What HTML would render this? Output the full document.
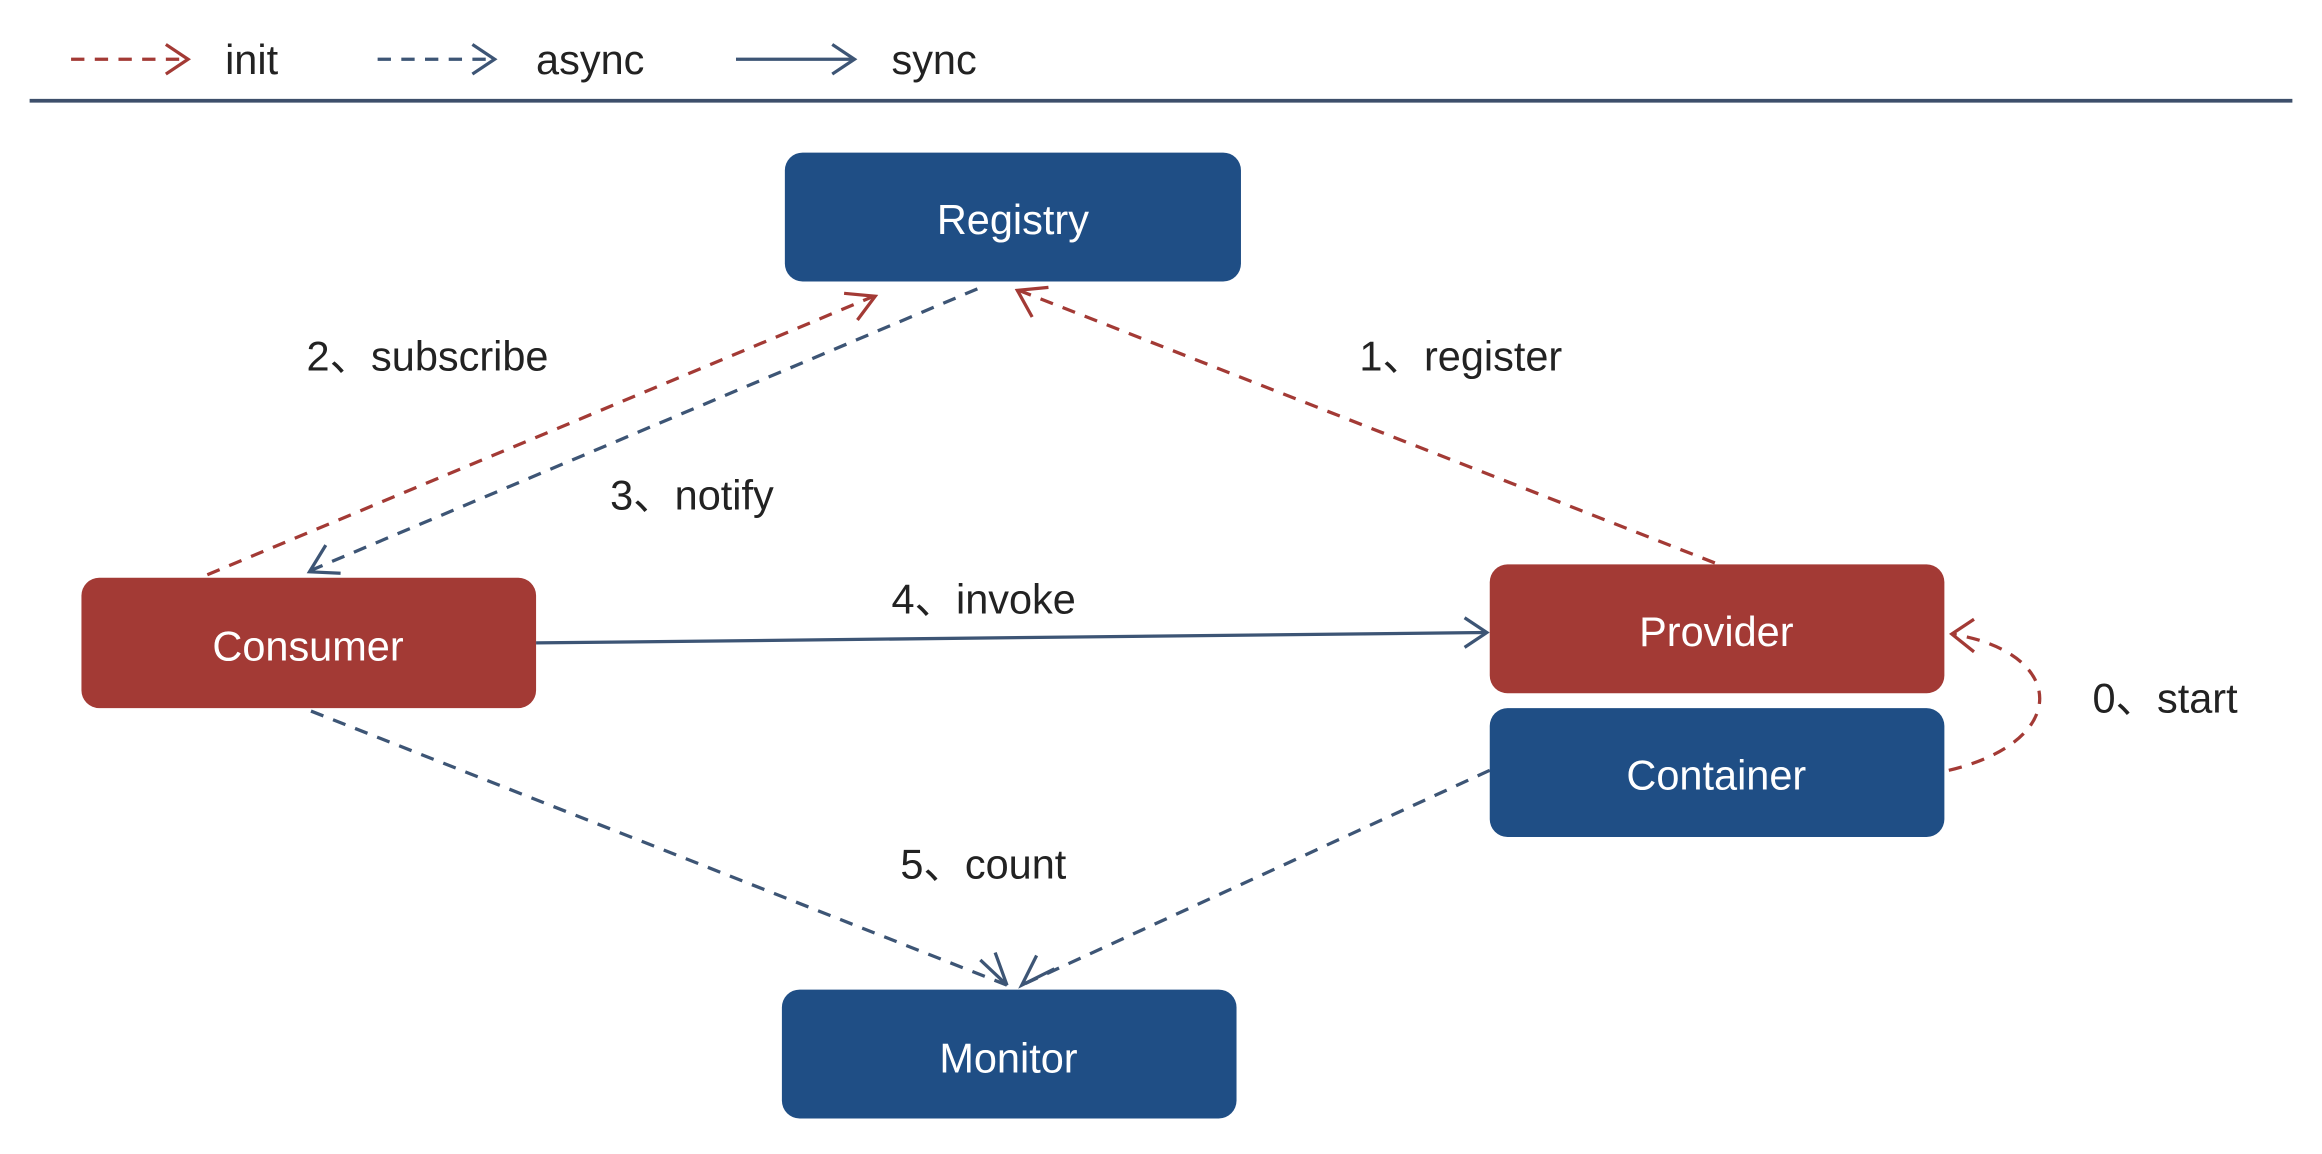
<!DOCTYPE html>
<html><head><style>html,body{margin:0;padding:0;background:#fff}svg{display:block}text{font-family:"Liberation Sans","Noto Sans CJK SC",sans-serif}</style></head>
<body>
<svg width="2322" height="1154" viewBox="0 0 1568 779" preserveAspectRatio="none" xmlns="http://www.w3.org/2000/svg">
<g fill="none" stroke-width="2.2">
<line x1="48" y1="40" x2="126" y2="40" stroke="#a33a35" stroke-dasharray="9,7"/>
<polyline points="112,30 127,40 112,50" stroke="#a33a35"/>
<line x1="255" y1="40" x2="333" y2="40" stroke="#3d5575" stroke-dasharray="9,7"/>
<polyline points="319,30 334,40 319,50" stroke="#3d5575"/>
<line x1="497" y1="40" x2="576" y2="40" stroke="#3d5575"/>
<polyline points="562,30 577,40 562,50" stroke="#3d5575"/>
<line x1="20" y1="68" x2="1548" y2="68" stroke="#3d4f6b" stroke-width="2.5"/>

<line x1="140" y1="388" x2="590" y2="200" stroke="#a33a35" stroke-dasharray="9,7"/>
<polyline points="570,198 591,200 579,216" stroke="#a33a35"/>
<line x1="660" y1="195" x2="210" y2="385" stroke="#3d5575" stroke-dasharray="9,7"/>
<polyline points="220,368 209,386 230,387" stroke="#3d5575"/>
<line x1="1158" y1="380" x2="688" y2="196" stroke="#a33a35" stroke-dasharray="9,7"/>
<polyline points="697,214 687,196 708,194" stroke="#a33a35"/>
<line x1="362" y1="434" x2="1003" y2="427" stroke="#3d5575"/>
<polyline points="989,417 1004,427 989,437" stroke="#3d5575"/>
<path d="M1316,520 C1400,500 1395,440 1318,428" stroke="#a33a35" stroke-dasharray="9,7"/>
<polyline points="1333,418 1318,428 1333,440" stroke="#a33a35"/>
<line x1="210" y1="480" x2="680" y2="665" stroke="#3d5575" stroke-dasharray="9,7"/>
<line x1="1006" y1="520" x2="690" y2="665" stroke="#3d5575" stroke-dasharray="9,7"/>
<polyline points="662,648 680,665 672,643" stroke="#3d5575"/>
<polyline points="700,645 690,665 712,654" stroke="#3d5575"/>
</g>
<g>
<rect x="530" y="103" width="308" height="87" rx="12" fill="#1f4e85"/>
<rect x="55" y="390" width="307" height="88" rx="12" fill="#a33a35"/>
<rect x="1006" y="381" width="307" height="87" rx="12" fill="#a33a35"/>
<rect x="1006" y="478" width="307" height="87" rx="12" fill="#1f4e85"/>
<rect x="528" y="668" width="307" height="87" rx="12" fill="#1f4e85"/>
</g>
<g fill="#fff" font-size="28" text-anchor="middle">
<text x="684" y="158">Registry</text>
<text x="208" y="446">Consumer</text>
<text x="1159" y="436">Provider</text>
<text x="1159" y="533">Container</text>
<text x="681" y="724">Monitor</text>
</g>
<g fill="#222" font-size="28">
<text x="152" y="50">init</text>
<text x="362" y="50">async</text>
<text x="602" y="50">sync</text>
<text x="207" y="250">2、subscribe</text>
<text x="918" y="250">1、register</text>
<text x="412" y="344">3、notify</text>
<text x="602" y="414">4、invoke</text>
<text x="1413" y="481">0、start</text>
<text x="608" y="593">5、count</text>
</g>
</svg>
</body></html>
